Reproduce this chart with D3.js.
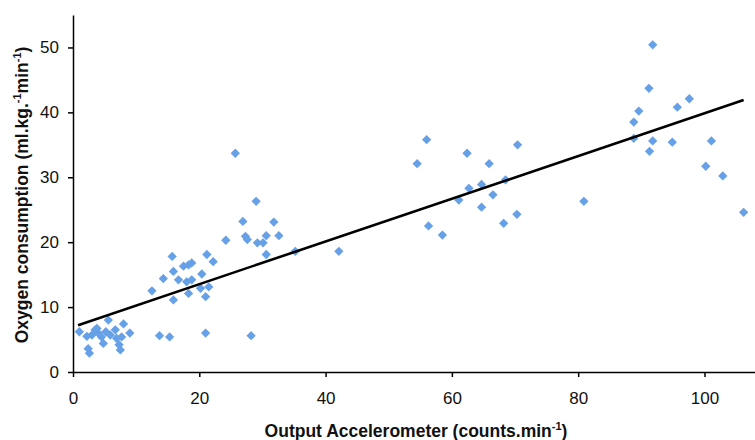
<!DOCTYPE html>
<html>
<head>
<meta charset="utf-8">
<script src="https://cdn.jsdelivr.net/npm/d3@7"></script>
<style>
  body { margin: 0; background: #fff; }
  svg { display: block; font-family: "Liberation Sans", Arial, sans-serif; }
</style>
</head>
<body>
<div id="chart"></div>
<script>
// accelerometer output (counts.min-1)
const accel = [
  1.0, 2.4, 2.6, 3.0, 3.5, 4.0, 4.5, 3.8, 4.8, 5.6, 5.9, 6.7, 6.9, 7.5, 7.3, 8.0, 9.0, 7.7, 2.2, 5.2,
  13.7, 15.3, 21.0, 28.2,
  12.5, 14.3, 15.7, 15.9, 16.7, 15.9, 17.5, 18.3, 18.8, 18.0, 18.8, 18.3, 20.4, 21.2, 22.2, 21.5, 21.0, 20.2,
  24.2, 26.9, 27.3, 27.6, 29.2, 29.0, 25.7, 31.8, 30.6, 32.6, 30.1, 30.6, 35.2, 42.1,
  56.0, 54.5, 62.4, 70.4, 65.9, 62.7, 64.7, 68.5, 66.5, 61.1, 64.7, 56.3, 58.5, 68.2, 70.3,
  91.8, 91.2, 89.6, 88.8, 95.7, 97.6, 88.8, 91.8, 94.9, 91.3, 101.1, 100.2, 102.9, 80.9, 106.2
];
// oxygen consumption (ml.kg-1.min-1)
const oxygen = [
  6.2, 3.6, 2.9, 5.7, 6.5, 6.0, 5.4, 6.7, 4.4, 8.0, 5.7, 6.5, 5.2, 3.4, 4.2, 7.4, 6.0, 5.4, 5.5, 6.2,
  5.6, 5.4, 6.0, 5.6,
  12.5, 14.4, 17.8, 15.5, 14.2, 11.1, 16.3, 16.5, 16.8, 13.9, 14.2, 12.1, 15.1, 18.1, 17.0, 13.1, 11.6, 12.9,
  20.3, 23.2, 20.9, 20.4, 19.9, 26.3, 33.7, 23.1, 21.0, 21.0, 19.9, 18.1, 18.6, 18.6,
  35.8, 32.1, 33.7, 35.0, 32.1, 28.3, 28.9, 29.6, 27.3, 26.5, 25.4, 22.5, 21.1, 22.9, 24.3,
  50.4, 43.7, 40.2, 38.5, 40.8, 42.1, 36.0, 35.6, 35.4, 34.0, 35.6, 31.7, 30.2, 26.3, 24.6
];
const xTicks = [0, 20, 40, 60, 80, 100];
const yTicks = [0, 10, 20, 30, 40, 50];
// fitted regression line
const trendX = [0.8, 106.2];
const trendIntercept = 6.95;
const trendSlope = 0.329;

const width = 755, height = 440;
const margin = { left: 73, right: 0, top: 15, bottom: 68 };

const svg = d3.select("#chart").append("svg")
  .attr("width", width)
  .attr("height", height);

const x = d3.scaleLinear().domain([0, 108]).range([margin.left, width - margin.right]);
const y = d3.scaleLinear().domain([0, 55]).range([height - margin.bottom, margin.top]);

// x axis
const xAxis = svg.append("g")
  .attr("transform", `translate(0,${y(0)})`)
  .call(d3.axisBottom(x).tickValues(xTicks).tickSizeInner(5).tickSizeOuter(0).tickPadding(15));
xAxis.select(".domain").attr("stroke", "#000").attr("stroke-width", 1.5);
xAxis.selectAll(".tick line").attr("stroke", "#000").attr("stroke-width", 1.5);
xAxis.selectAll(".tick text").attr("font-size", 17).attr("fill", "#111")
  .attr("font-family", "Liberation Sans, Arial, sans-serif");

// y axis
const yAxis = svg.append("g")
  .attr("transform", `translate(${x(0)},0)`)
  .call(d3.axisLeft(y).tickValues(yTicks).tickSizeInner(5).tickSizeOuter(0).tickPadding(9));
yAxis.select(".domain").attr("stroke", "#000").attr("stroke-width", 1.5);
yAxis.selectAll(".tick line").attr("stroke", "#000").attr("stroke-width", 1.5);
yAxis.selectAll(".tick text").attr("font-size", 17).attr("fill", "#111")
  .attr("font-family", "Liberation Sans, Arial, sans-serif");

// points
const pts = accel.map((v, i) => ({ x: v, y: oxygen[i] }));
const diamond = d3.symbol().type(d3.symbolDiamond2).size(55);
svg.append("g").selectAll("path")
  .data(pts)
  .enter().append("path")
  .attr("d", diamond)
  .attr("transform", d => `translate(${x(d.x)},${y(d.y)})`)
  .attr("fill", "#66a0e6");

// regression line
const line = d3.line()
  .x(d => x(d))
  .y(d => y(trendIntercept + trendSlope * d));
svg.append("path")
  .datum(trendX)
  .attr("d", line)
  .attr("fill", "none")
  .attr("stroke", "#000")
  .attr("stroke-width", 2.6);

// axis titles
const xTitle = svg.append("text")
  .attr("x", 416).attr("y", 437)
  .attr("text-anchor", "middle")
  .attr("font-size", 17.5).attr("font-weight", "bold").attr("fill", "#111");
xTitle.append("tspan").text("Output Accelerometer (counts.min");
xTitle.append("tspan").attr("dy", -7).attr("font-size", 11).text("-1");
xTitle.append("tspan").attr("dy", 7).text(")");

const yTitle = svg.append("text")
  .attr("transform", "translate(28,195) rotate(-90)")
  .attr("text-anchor", "middle")
  .attr("font-size", 17.5).attr("font-weight", "bold").attr("fill", "#111");
yTitle.append("tspan").text("Oxygen consumption (ml.kg.");
yTitle.append("tspan").attr("dy", -7).attr("font-size", 11).text("-1");
yTitle.append("tspan").attr("dy", 7).text("min");
yTitle.append("tspan").attr("dy", -7).attr("font-size", 11).text("-1");
yTitle.append("tspan").attr("dy", 7).text(")");
</script>
</body>
</html>
